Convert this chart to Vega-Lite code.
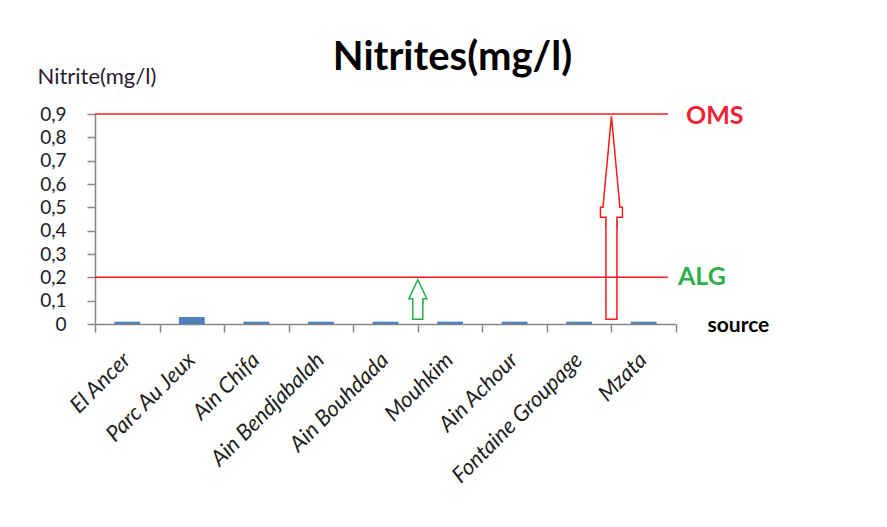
{
  "$schema": "https://vega.github.io/schema/vega-lite/v6.json",
  "width": 581,
  "height": 210,
  "autosize": {"type": "none"},
  "padding": {"left": 95, "top": 114, "right": 211, "bottom": 203},
  "background": "white",
  "config": {
    "view": {"stroke": null},
    "font": "Lato",
    "axisY": {
      "tickCount": 9,
      "labelOverlap": false,
      "labelSeparation": 0,
      "labelBound": false,
      "grid": false
    }
  },
  "title": {
    "text": "Nitrites(mg/l)",
    "font": "Lato",
    "fontSize": 40,
    "fontWeight": "bold",
    "color": "#000000",
    "anchor": "middle",
    "frame": "group",
    "baseline": "alphabetic",
    "dx": 67,
    "offset": -45
  },
  "datasets": {
    "nitrites": [
      {"source": "El Ancer", "nitrite": 0.01},
      {"source": "Parc Au Jeux", "nitrite": 0.03},
      {"source": "Ain Chifa", "nitrite": 0.01},
      {"source": "Ain Bendjabalah", "nitrite": 0.01},
      {"source": "Ain Bouhdada", "nitrite": 0.01},
      {"source": "Mouhkim", "nitrite": 0.01},
      {"source": "Ain Achour", "nitrite": 0.01},
      {"source": "Fontaine Groupage", "nitrite": 0.01},
      {"source": "Mzata", "nitrite": 0.01}
    ],
    "normes": [
      {"norme": "OMS", "limite": 0.9},
      {"norme": "ALG", "limite": 0.2}
    ],
    "fleches": [
      {"norme": "ALG", "source": "Mouhkim", "bas": 0.02, "pointe": 0.19},
      {"norme": "OMS", "source": "Mzata", "bas": 0.02, "pointe": 0.89}
    ]
  },
  "layer": [
    {
      "data": {"name": "nitrites"},
      "mark": {"type": "bar", "color": "#4F81BD", "width": {"band": 0.4}},
      "encoding": {
        "x": {
          "field": "source",
          "type": "nominal",
          "sort": null,
          "scale": {
            "type": "band",
            "domain": ["El Ancer", "Parc Au Jeux", "Ain Chifa", "Ain Bendjabalah", "Ain Bouhdada", "Mouhkim", "Ain Achour", "Fontaine Groupage", "Mzata"],
            "paddingInner": 0,
            "paddingOuter": 0
          },
          "axis": {
            "title": "source",
            "titleFont": "Lato",
            "titleFontSize": 21,
            "titleFontWeight": "bold",
            "titleColor": "#000000",
            "titleAlign": "left",
            "titleBaseline": "alphabetic",
            "titleAnchor": "start",
            "titleX": 612,
            "titleY": 7,
            "tickBand": "extent",
            "domainColor": "#868686",
            "tickColor": "#868686",
            "tickSize": 8,
            "domainWidth": 1.5,
            "tickWidth": 1.5,
            "labelAngle": -45,
            "labelFont": "Lato",
            "labelFontStyle": "italic",
            "labelFontSize": 22,
            "labelColor": "#1e1e1e",
            "labelPadding": 17,
            "labelOffset": -8,
            "labelOverlap": false,
            "labelBound": false,
            "labelLimit": 0
          }
        },
        "y": {
          "field": "nitrite",
          "type": "quantitative",
          "scale": {"domain": [0, 0.9], "nice": false, "zero": true},
          "axis": {
            "title": "Nitrite(mg/l)",
            "titleFont": "Lato",
            "titleFontSize": 22,
            "titleFontWeight": "normal",
            "titleColor": "#2a1b30",
            "titleAngle": 0,
            "titleAlign": "left",
            "titleBaseline": "alphabetic",
            "titleAnchor": "start",
            "titleX": -58,
            "titleY": -31,
            "tickCount": 9,
            "labelExpr": "replace(format(datum.value, '.1~f'), '.', ',')",
            "labelFont": "Lato",
            "labelFontSize": 19,
            "labelColor": "#1b1b30",
            "labelPadding": 21,
            "labelOverlap": false,
            "labelBound": false,
            "labelSeparation": 0,
            "grid": false,
            "domainColor": "#868686",
            "tickColor": "#868686",
            "tickSize": 8,
            "domainWidth": 1.5,
            "tickWidth": 1.5
          }
        }
      }
    },
    {
      "data": {"name": "fleches"},
      "transform": [{"filter": "datum.norme === 'ALG'"}],
      "mark": {"type": "bar", "width": 10, "fill": "white", "stroke": "#25b04a", "strokeWidth": 1.5, "xOffset": -32.28, "yOffset": 21},
      "encoding": {
        "x": {"field": "source", "type": "nominal"},
        "y": {"field": "pointe", "type": "quantitative"},
        "y2": {"field": "bas"}
      }
    },
    {
      "data": {"name": "fleches"},
      "transform": [{"filter": "datum.norme === 'ALG'"}],
      "mark": {
        "type": "point",
        "shape": "M5,25L5,19L9,19L0,0L-9,19L-5,19L-5,25",
        "size": 4,
        "filled": true,
        "fill": "white",
        "stroke": "#25b04a",
        "strokeWidth": 1.5,
        "opacity": 1
      },
      "encoding": {
        "x": {"field": "source", "type": "nominal", "bandPosition": 0},
        "y": {"field": "pointe", "type": "quantitative"}
      }
    },
    {
      "data": {"name": "fleches"},
      "transform": [{"filter": "datum.norme === 'OMS'"}],
      "mark": {"type": "bar", "width": 11, "fill": "white", "stroke": "#ff1a1a", "strokeWidth": 1.5, "xOffset": -32.28, "yOffset": 105},
      "encoding": {
        "x": {"field": "source", "type": "nominal"},
        "y": {"field": "pointe", "type": "quantitative"},
        "y2": {"field": "bas"}
      }
    },
    {
      "data": {"name": "fleches"},
      "transform": [{"filter": "datum.norme === 'OMS'"}],
      "mark": {
        "type": "point",
        "shape": "M5.5,112L5.5,101L11,101L11,91L8.5,91L0,0L-8.5,91L-11,91L-11,101L-5.5,101L-5.5,112",
        "size": 4,
        "filled": true,
        "fill": "white",
        "stroke": "#ff1a1a",
        "strokeWidth": 1.5,
        "opacity": 1
      },
      "encoding": {
        "x": {"field": "source", "type": "nominal", "bandPosition": 0},
        "y": {"field": "pointe", "type": "quantitative"}
      }
    },
    {
      "data": {"name": "normes"},
      "mark": {"type": "rule", "color": "#ff1a1a", "strokeWidth": 1.5, "xOffset": -8, "x2Offset": -11},
      "encoding": {
        "y": {"field": "limite", "type": "quantitative"}
      }
    },
    {
      "data": {"name": "normes"},
      "transform": [{"filter": "datum.norme === 'OMS'"}],
      "mark": {"type": "text", "font": "Lato", "fontSize": 25, "fontWeight": "bold", "color": "#ee2233", "align": "left", "baseline": "middle", "dx": 10, "dy": 2},
      "encoding": {
        "x": {"datum": "Mzata", "bandPosition": 1},
        "y": {"field": "limite", "type": "quantitative"},
        "text": {"field": "norme"}
      }
    },
    {
      "data": {"name": "normes"},
      "transform": [{"filter": "datum.norme === 'ALG'"}],
      "mark": {"type": "text", "font": "Lato", "fontSize": 25, "fontWeight": "bold", "color": "#2eaf4c", "align": "left", "baseline": "middle", "dx": 2, "dy": 0},
      "encoding": {
        "x": {"datum": "Mzata", "bandPosition": 1},
        "y": {"field": "limite", "type": "quantitative"},
        "text": {"field": "norme"}
      }
    }
  ]
}
